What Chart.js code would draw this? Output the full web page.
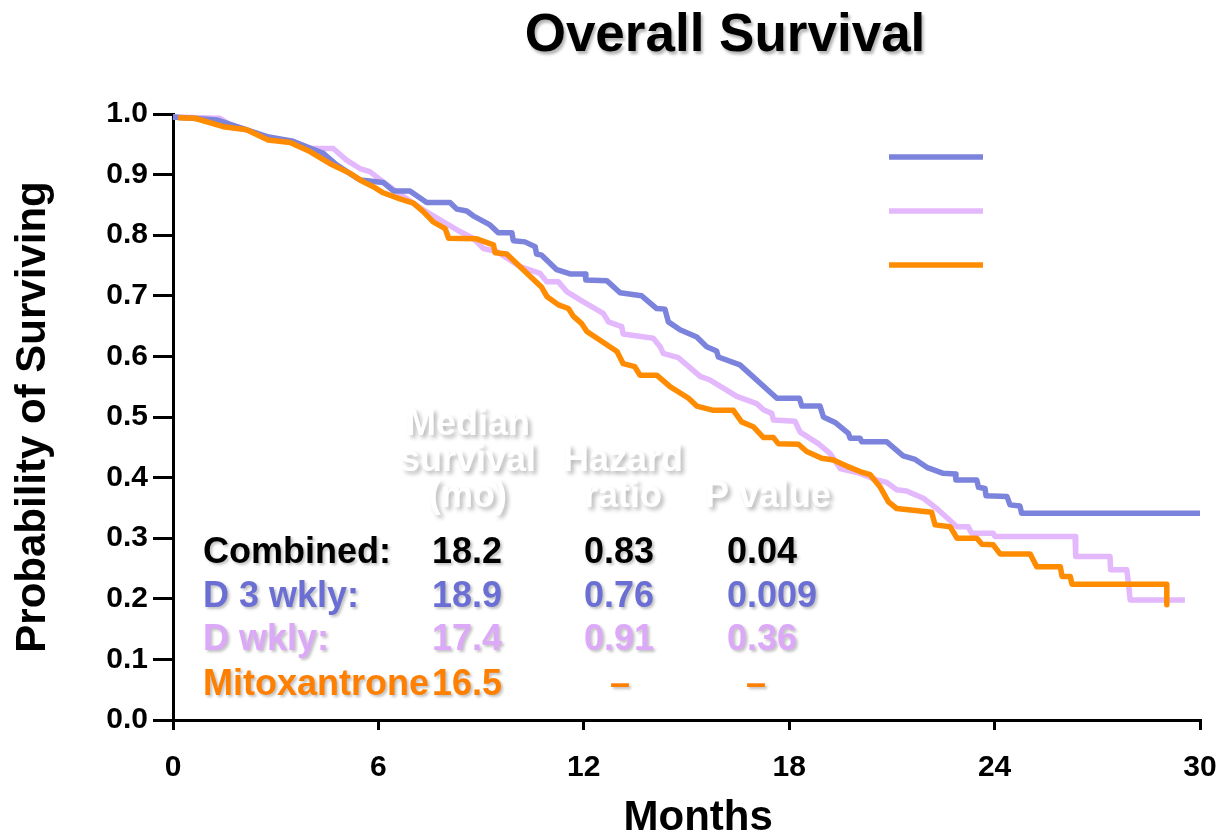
<!DOCTYPE html>
<html><head><meta charset="utf-8">
<script src="https://cdn.jsdelivr.net/npm/chart.js@4.4.1/dist/chart.umd.min.js"></script>
<style>html,body{margin:0;padding:0;background:#fff;} #wrap{width:1222px;height:832px;}</style>
</head><body><div id="wrap"><canvas id="c" width="1222" height="832" style="width:1222px;height:832px"></canvas></div>
<script>
// ---- Data ----
const chartTitle = 'Overall Survival';
const xTitle = '\u2007Months';
const yTitle = 'Probability of Surviving';
const xTickValues = [0, 6, 12, 18, 24, 30];
const seriesNames = ['D 3 wkly', 'D wkly', 'Mitoxantrone'];

const d3Months = [0, 1.3, 2.15, 2.8, 3.5, 4.39, 4.78, 5.46, 6.14, 6.44, 6.92, 7.41, 8.09, 8.29, 8.58, 8.77, 9.26, 9.5, 9.9, 9.94, 10.28, 10.58, 10.62, 10.77, 11.21, 11.6, 12.04, 12.06, 12.67, 13.06, 13.69, 14.13, 14.37, 14.47, 14.81, 15.3, 15.59, 15.88, 15.93, 16.56, 17.64, 18.3, 18.37, 18.9, 19.0, 19.34, 19.73, 19.78, 20.07, 20.12, 20.85, 21.33, 21.68, 22.02, 22.5, 22.85, 22.87, 23.48, 23.53, 23.72, 23.75, 24.36, 24.45, 24.74, 24.79, 30];
const d3Surv = [0.995, 0.99, 0.974, 0.962, 0.955, 0.935, 0.916, 0.891, 0.887, 0.873, 0.873, 0.854, 0.854, 0.843, 0.840, 0.832, 0.817, 0.804, 0.804, 0.791, 0.789, 0.781, 0.769, 0.767, 0.743, 0.736, 0.736, 0.726, 0.725, 0.705, 0.700, 0.679, 0.678, 0.657, 0.644, 0.632, 0.616, 0.609, 0.599, 0.586, 0.531, 0.531, 0.518, 0.518, 0.500, 0.491, 0.473, 0.465, 0.465, 0.459, 0.459, 0.436, 0.430, 0.417, 0.407, 0.406, 0.396, 0.396, 0.384, 0.382, 0.370, 0.369, 0.355, 0.353, 0.341, 0.341];

const dwMonths = [0, 1.37, 1.67, 2.15, 2.83, 3.51, 4.0, 4.68, 5.07, 5.46, 5.75, 6.14, 6.73, 7.31, 7.9, 8.38, 8.77, 9.07, 9.46, 10.14, 10.72, 10.92, 11.26, 11.5, 11.99, 12.57, 12.72, 13.11, 13.15, 14.03, 14.23, 14.32, 14.76, 15.4, 15.69, 16.47, 17.05, 17.25, 17.49, 17.54, 18.17, 18.32, 18.85, 19.19, 19.49, 20.07, 20.56, 20.85, 21.14, 21.43, 21.92, 22.31, 22.9, 23.23, 23.33, 23.96, 24.01, 26.35, 26.37, 27.37, 27.39, 27.86, 27.9, 27.96, 29.56];
const dwSurv = [0.995, 0.993, 0.982, 0.974, 0.960, 0.955, 0.943, 0.943, 0.924, 0.910, 0.905, 0.888, 0.864, 0.842, 0.822, 0.806, 0.795, 0.778, 0.773, 0.748, 0.737, 0.723, 0.723, 0.707, 0.690, 0.671, 0.657, 0.649, 0.637, 0.630, 0.616, 0.605, 0.598, 0.567, 0.561, 0.534, 0.522, 0.512, 0.506, 0.495, 0.493, 0.475, 0.456, 0.440, 0.415, 0.407, 0.396, 0.392, 0.380, 0.378, 0.366, 0.349, 0.319, 0.319, 0.308, 0.308, 0.303, 0.303, 0.270, 0.270, 0.248, 0.248, 0.231, 0.198, 0.198];

const mxMonths = [0.15, 0.64, 1.47, 2.15, 2.78, 3.42, 4.0, 4.59, 5.17, 5.56, 5.85, 6.14, 6.63, 7.02, 7.31, 7.6, 7.95, 8.05, 8.87, 9.36, 9.41, 9.75, 10.23, 10.77, 10.92, 11.26, 11.55, 11.7, 11.94, 12.09, 12.97, 13.15, 13.49, 13.64, 14.13, 14.52, 15.06, 15.3, 15.79, 16.37, 16.61, 16.95, 17.25, 17.54, 17.68, 18.27, 18.51, 18.95, 19.29, 19.68, 20.07, 20.36, 20.65, 20.9, 21.14, 22.16, 22.26, 22.7, 22.9, 23.48, 23.63, 23.96, 24.16, 25.04, 25.23, 25.92, 25.97, 26.21, 26.26, 29.03, 29.03];
const mxSurv = [0.994, 0.993, 0.979, 0.974, 0.957, 0.953, 0.938, 0.918, 0.902, 0.888, 0.880, 0.870, 0.860, 0.853, 0.839, 0.822, 0.811, 0.795, 0.794, 0.784, 0.771, 0.769, 0.743, 0.714, 0.699, 0.685, 0.679, 0.666, 0.654, 0.641, 0.608, 0.588, 0.583, 0.569, 0.569, 0.550, 0.531, 0.518, 0.511, 0.511, 0.492, 0.484, 0.466, 0.466, 0.456, 0.455, 0.443, 0.432, 0.429, 0.419, 0.410, 0.405, 0.385, 0.360, 0.349, 0.343, 0.322, 0.319, 0.300, 0.300, 0.290, 0.289, 0.274, 0.274, 0.253, 0.253, 0.237, 0.237, 0.224, 0.224, 0.190];

// Inset table
const tableHeaderMedian = ['Median', 'survival', '(mo)'];
const tableHeaderHazard = ['Hazard', 'ratio'];
const tableHeaderP = ['P value'];
const tableRowLabels = ['Combined:', 'D 3 wkly:', 'D wkly:', 'Mitoxantrone'];
const tableMedians = ['18.2', '18.9', '17.4', '16.5'];
const tableHazards = ['0.83', '0.76', '0.91', '\u2013'];
const tablePValues = ['0.04', '0.009', '0.36', '\u2013'];

// ---- Styles ----
const FONT = '"Liberation Sans", Arial, Helvetica, sans-serif';
const colD3 = '#7b83dc';
const colDw = '#e4b8fc';
const colMx = '#ff8c00';
const rowColors = ['#000000', '#6b6fd3', '#dca8f8', '#ff7f00'];

function pts(xs, ys) { return xs.map((x, i) => ({ x: x, y: ys[i] })); }

const overlay = {
  id: 'overlay',
  afterDraw(chart) {
    const ctx = chart.ctx;
    ctx.save();
    // Title
    ctx.font = 'bold 53px ' + FONT;
    ctx.textAlign = 'center';
    ctx.textBaseline = 'alphabetic';
    ctx.shadowColor = 'rgba(0,0,0,0.3)';
    ctx.shadowOffsetX = 2; ctx.shadowOffsetY = 3; ctx.shadowBlur = 3;
    ctx.fillStyle = '#000';
    ctx.fillText(chartTitle, 725, 51);

    // Legend line swatches (no labels in the reference)
    ctx.shadowColor = 'rgba(0,0,0,0)';
    const legCols = [colD3, colDw, colMx];
    const legY = [157, 211, 265];
    ctx.lineWidth = 5.5;
    ctx.lineCap = 'butt';
    legCols.forEach((c, i) => {
      ctx.strokeStyle = c;
      ctx.beginPath(); ctx.moveTo(889, legY[i]); ctx.lineTo(983, legY[i]); ctx.stroke();
    });

    // Table header (white text with grey shadow)
    ctx.font = 'bold 36px ' + FONT;
    ctx.textBaseline = 'middle';
    ctx.textAlign = 'center';
    ctx.shadowColor = 'rgba(0,0,0,0.28)';
    ctx.shadowOffsetX = 3; ctx.shadowOffsetY = 3; ctx.shadowBlur = 4;
    ctx.fillStyle = '#ffffff';
    const hy = [425, 461, 497];
    tableHeaderMedian.forEach((t, i) => ctx.fillText(t, 468, hy[i]));
    tableHeaderHazard.forEach((t, i) => ctx.fillText(t, 623, hy[i + 1]));
    tableHeaderP.forEach((t, i) => ctx.fillText(t, 768, hy[2]));

    // Table rows
    ctx.shadowColor = 'rgba(0,0,0,0.25)';
    ctx.shadowOffsetX = 2; ctx.shadowOffsetY = 2; ctx.shadowBlur = 3;
    const ry = [553, 597, 640, 685];
    tableRowLabels.forEach((t, i) => {
      ctx.fillStyle = rowColors[i];
      ctx.textAlign = 'left';
      ctx.fillText(t, 203, ry[i]);
      ctx.fillText(tableMedians[i], 432, ry[i]);
      if (tableHazards[i] === '\u2013') { ctx.textAlign = 'center'; ctx.fillText(tableHazards[i], 620, ry[i]); }
      else { ctx.textAlign = 'left'; ctx.fillText(tableHazards[i], 584, ry[i]); }
      if (tablePValues[i] === '\u2013') { ctx.textAlign = 'center'; ctx.fillText(tablePValues[i], 756, ry[i]); }
      else { ctx.textAlign = 'left'; ctx.fillText(tablePValues[i], 727, ry[i]); }
    });
    ctx.restore();
  }
};

new Chart(document.getElementById('c'), {
  type: 'line',
  data: {
    datasets: [
      { label: seriesNames[2], data: pts(mxMonths, mxSurv), borderColor: colMx },
      { label: seriesNames[0], data: pts(d3Months, d3Surv), borderColor: colD3 },
      { label: seriesNames[1], data: pts(dwMonths, dwSurv), borderColor: colDw }
    ].map(d => Object.assign(d, { borderWidth: 5.5, pointRadius: 0, tension: 0, fill: false, clip: false, borderJoinStyle: 'round', borderCapStyle: 'butt' }))
  },
  options: {
    responsive: false,
    devicePixelRatio: 1,
    animation: false,
    layout: { padding: { top: 114, right: 22, left: 0, bottom: 0 } },
    plugins: { legend: { display: false }, tooltip: { enabled: false }, title: { display: false } },
    scales: {
      x: {
        type: 'linear', min: 0, max: 30,
        afterBuildTicks: s => { s.ticks = xTickValues.map(v => ({ value: v })); },
        afterFit: s => { s.height = 112; s.paddingRight = 0; s.paddingLeft = 0; },
        ticks: { color: '#000', font: { family: FONT, size: 30, weight: 'bold' }, padding: 20, maxRotation: 0 },
        grid: { drawOnChartArea: false, drawTicks: true, tickLength: 10, color: '#000', lineWidth: 3 },
        border: { display: true, color: '#000', width: 3 },
        title: { display: true, text: xTitle, color: '#000', font: { family: FONT, size: 42, weight: 'bold' }, padding: { top: 0, bottom: -12 } }
      },
      y: {
        min: 0, max: 1,
        afterFit: s => { s.width = 173; },
        ticks: { stepSize: 0.1, color: '#000', font: { family: FONT, size: 30, weight: 'bold' }, padding: 5, callback: v => Number(v).toFixed(1) },
        grid: { drawOnChartArea: false, drawTicks: true, tickLength: 20, color: '#000', lineWidth: 3 },
        border: { display: true, color: '#000', width: 3 },
        title: { display: true, text: yTitle, color: '#000', font: { family: FONT, size: 42, weight: 'bold' }, padding: { top: 8, bottom: 0 } }
      }
    }
  },
  plugins: [overlay]
});
</script></body></html>
